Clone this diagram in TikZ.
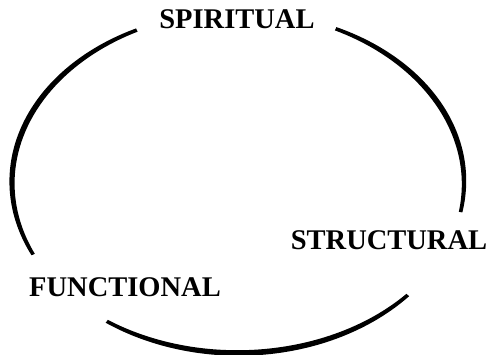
\documentclass[tikz,border=0pt]{standalone}
\usepackage{fontspec}
\setmainfont{Liberation Serif}
\begin{document}
\begin{tikzpicture}[x=1pt,y=-1pt,
  lbl/.style={inner sep=0pt, font=\fontsize{28.5}{30}\selectfont\bfseries},
  declare function={wd(\t,\a,\b)=3.6+2.0*sin(180*(\t-\a)/(\b-\a));}]
\useasboundingbox (0,0) rectangle (494,355);
\newcommand\brusharc[2]{%
  \fill[black] plot[domain=#1:#2, samples=80, variable=\t]
      ({238+(226+0.5*wd(\t,#1,#2))*cos(\t)}, {182.5+(170.5+0.5*wd(\t,#1,#2))*sin(\t)})
    -- plot[domain=#2:#1, samples=80, variable=\t]
      ({238+(226-0.5*wd(\t,#1,#2))*cos(\t)}, {182.5+(170.5-0.5*wd(\t,#1,#2))*sin(\t)})
    -- cycle;}
\brusharc{155}{243.4}
\brusharc{295.6}{370}
\brusharc{41.3}{125.5}
\node[lbl] (spiritual) at (237,19) {SPIRITUAL};
\node[lbl] (structural) at (389,240) {STRUCTURAL};
\node[lbl] (functional) at (125,287) {FUNCTIONAL};
\end{tikzpicture}
\end{document}
